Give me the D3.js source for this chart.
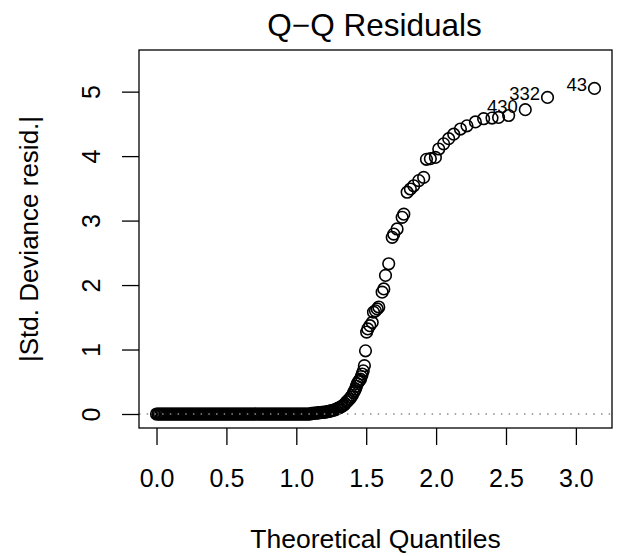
<!DOCTYPE html>
<html><head><meta charset="utf-8">
<script src="https://cdn.jsdelivr.net/npm/d3@7"></script>
<style>
html,body{margin:0;padding:0;background:#fff;}
svg{display:block;font-family:"Liberation Sans",Arial,Helvetica,sans-serif;}
</style></head>
<body><svg id="chart" width="621" height="556"></svg>
<script>
// ---- data ----
const titleText = "Q\u2212Q Residuals";
const xLabel = "Theoretical Quantiles";
const yLabel = "|Std. Deviance resid.|";

// points lying on |resid| = 0 (theoretical quantile positions)
const zeroX = [0.00,0.01,0.02,0.03,0.04,0.05,0.06,0.07,0.08,0.09,0.10,0.11,0.12,0.13,0.14,0.15,0.16,0.17,0.18,0.19,
0.20,0.21,0.22,0.23,0.24,0.25,0.26,0.27,0.28,0.29,0.30,0.31,0.32,0.33,0.34,0.35,0.36,0.37,0.38,0.39,
0.40,0.41,0.42,0.43,0.44,0.45,0.46,0.47,0.48,0.49,0.50,0.51,0.52,0.53,0.54,0.55,0.56,0.57,0.58,0.59,
0.60,0.61,0.62,0.63,0.64,0.65,0.66,0.67,0.68,0.69,0.70,0.71,0.72,0.73,0.74,0.75,0.76,0.77,0.78,0.79,
0.80,0.81,0.82,0.83,0.84,0.85,0.86,0.87,0.88,0.89,0.90,0.91,0.92,0.93,0.94,0.95,0.96,0.97,0.98,0.99,
1.00,1.01,1.02,1.03,1.04,1.05,1.06,1.07,1.08,1.09,1.10];

// rising part of the curve
const curveX = [1.11,1.12,1.13,1.14,1.15,1.16,1.17,1.18,1.19,1.20,1.21,1.22,1.23,1.24,1.25,1.26,1.27,1.28,1.29,1.30,
1.31,1.32,1.33,1.34,1.35,1.36,1.37,1.38,1.39,1.40,1.409,1.417,1.424,1.430,1.436,1.445,1.452,1.459,1.465,1.471,
1.479,1.487,1.495,1.503,1.511,1.526,1.543,1.552,1.566,1.579,1.590,1.614,1.626,1.638,1.661,1.686,1.697,1.721,1.757,1.769,
1.793,1.816,1.840,1.876,1.911,1.931,1.959,1.995,2.019,2.054,2.090,2.126,2.174,2.221,2.281,2.340,2.400,2.447,2.519,2.638,
2.797,3.133];
const curveY = [0.01,0.01,0.015,0.015,0.015,0.02,0.02,0.025,0.025,0.03,0.03,0.035,0.04,0.045,0.05,0.055,0.06,0.07,0.08,0.09,
0.10,0.11,0.125,0.14,0.16,0.19,0.21,0.23,0.26,0.29,0.33,0.36,0.39,0.43,0.47,0.50,0.52,0.54,0.58,0.62,
0.67,0.75,0.98,1.27,1.32,1.37,1.42,1.58,1.60,1.63,1.66,1.89,1.94,2.15,2.33,2.74,2.79,2.87,3.05,3.10,
3.44,3.49,3.54,3.62,3.67,3.95,3.96,3.98,4.11,4.19,4.27,4.34,4.42,4.47,4.53,4.58,4.59,4.60,4.63,4.72,
4.91,5.05];

// labelled observations
const idLabels = ["430","332","43"];
const idX = [2.638,2.797,3.133];
const idY = [4.72,4.91,5.05];

const xTicks = [0,0.5,1,1.5,2,2.5,3];
const yTicks = [0,1,2,3,4,5];

// ---- build ----
const points = zeroX.map(x => ({x, y: 0})).concat(curveX.map((x, i) => ({x, y: curveY[i]})));

const svg = d3.select("#chart");
const L = 139, R = 612, T = 50, B = 428;

const xr = d3.extent(points, d => d.x);
const xpad = (xr[1] - xr[0]) * 0.04;
const x = d3.scaleLinear().domain([xr[0] - xpad, xr[1] + xpad]).range([L, R]);

let yr = d3.extent(points, d => d.y);
yr = [yr[0], yr[1] + (yr[1] - yr[0]) * 0.075];
const ypad = (yr[1] - yr[0]) * 0.04;
const y = d3.scaleLinear().domain([yr[0] - ypad, yr[1] + ypad]).range([B, T]);

// points
svg.append("g").selectAll("circle").data(points).join("circle")
  .attr("cx", d => x(d.x)).attr("cy", d => y(d.y)).attr("r", 5.8)
  .attr("fill", "none").attr("stroke", "#000").attr("stroke-width", 1.6);

// dotted reference line at 0
svg.append("line")
  .attr("x1", L).attr("x2", R).attr("y1", y(0)).attr("y2", y(0))
  .attr("stroke", "#8a8a8a").attr("stroke-width", 1.4)
  .attr("stroke-dasharray", "1.5,6.2");

// id labels
svg.append("g").selectAll("text").data(idLabels).join("text")
  .attr("x", (d, i) => x(idX[i]) - 7.5).attr("y", (d, i) => y(idY[i]) + 3)
  .attr("text-anchor", "end").attr("font-size", 18.5).attr("fill", "#000")
  .text(d => d);

// box
svg.append("rect").attr("x", L).attr("y", T).attr("width", R - L).attr("height", B - T)
  .attr("fill", "none").attr("stroke", "#000").attr("stroke-width", 1.3);

// x axis
const xAxis = d3.axisBottom(x).tickValues(xTicks).tickFormat(d3.format(".1f"))
  .tickSizeInner(17).tickSizeOuter(0).tickPadding(8);
const gx = svg.append("g").attr("transform", `translate(0,${B})`).call(xAxis);
gx.select(".domain").remove();
gx.selectAll("line").attr("stroke", "#000").attr("stroke-width", 1.3);
gx.selectAll("text").attr("font-size", 25).attr("fill", "#000")
  .attr("font-family", "Liberation Sans, Arial, sans-serif")
  .attr("dy", null).attr("y", 59);

// y axis
const yAxis = d3.axisLeft(y).tickValues(yTicks).tickFormat(d3.format("d"))
  .tickSizeInner(17).tickSizeOuter(0);
const gy = svg.append("g").attr("transform", `translate(${L},0)`).call(yAxis);
gy.select(".domain").remove();
gy.selectAll("line").attr("stroke", "#000").attr("stroke-width", 1.3);
gy.selectAll("text").attr("font-size", 25).attr("fill", "#000")
  .attr("font-family", "Liberation Sans, Arial, sans-serif")
  .attr("x", null).attr("dy", null)
  .attr("text-anchor", "middle")
  .attr("transform", "translate(-39,0) rotate(-90)")
  .attr("y", 0);

// title and axis labels
svg.append("text").attr("x", (L + R) / 2 - 1).attr("y", 36).attr("text-anchor", "middle")
  .attr("font-size", 31.5).attr("fill", "#000").text(titleText);
svg.append("text").attr("x", (L + R) / 2).attr("y", 548).attr("text-anchor", "middle")
  .attr("font-size", 26.5).attr("fill", "#000").text(xLabel);
svg.append("text").attr("transform", `translate(38,${(T + B) / 2}) rotate(-90)`)
  .attr("text-anchor", "middle").attr("font-size", 26).attr("fill", "#000").text(yLabel);
</script></body></html>
